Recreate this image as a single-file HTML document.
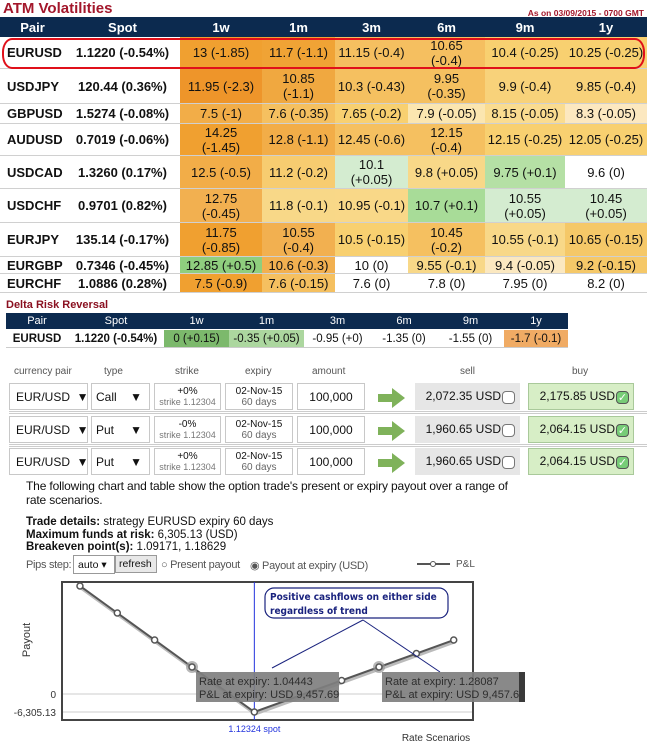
<!DOCTYPE html>
<html><head><meta charset="utf-8">
<style>
*{box-sizing:border-box;margin:0;padding:0}
body{width:647px;height:743px;background:#fff;position:relative;overflow:hidden;font-family:"Liberation Sans",sans-serif;color:#111}
.abs{position:absolute}
.cell{position:absolute;display:flex;align-items:center;justify-content:center;text-align:center;font-size:13px;line-height:15px;border-bottom:1px solid #d0d0d0}
.hdr{position:absolute;display:flex;align-items:center;justify-content:center;color:#fff;font-weight:bold;font-size:13px}
.dhdr{position:absolute;display:flex;align-items:center;justify-content:center;color:#fff;font-size:11px}
.dcell{position:absolute;display:flex;align-items:center;justify-content:center;font-size:11.5px;border-bottom:1px solid #ccc}
.box{position:absolute;border:1px solid #c8c8c8;background:#fff;font-size:12px;display:flex;align-items:center}
.lbl{position:absolute;font-size:10px;color:#555;top:366px}
</style></head><body>
<div class="abs" style="left:3px;top:0;font-size:15px;font-weight:bold;color:#a3172b">ATM Volatilities</div>
<div class="abs" style="right:3px;top:8px;font-size:8.5px;font-weight:bold;color:#a3172b">As on 03/09/2015 - 0700 GMT</div>
<div id="atm"></div>
<div class="abs" style="left:2px;top:38px;width:643px;height:31px;border:2px solid #e0101a;border-radius:10px/14px"></div>
<div class="abs" style="left:6px;top:299px;font-size:11px;font-weight:bold;color:#8a1020">Delta Risk Reversal</div>
<div id="delta"></div>
<div id="opts"></div>
<div class="abs" style="left:26px;top:479px;font-size:12px;line-height:14px;width:490px;letter-spacing:-0.15px">The following chart and table show the option trade's present or expiry payout over a range of rate scenarios.</div>
<div class="abs" style="left:26px;top:516px;font-size:11.5px;line-height:12.5px">
<div><b>Trade details:</b> strategy EURUSD expiry 60 days</div>
<div><b>Maximum funds at risk:</b> 6,305.13 (USD)</div>
<div><b>Breakeven point(s):</b> 1.09171, 1.18629</div></div>
<div class="abs" style="left:26px;top:559px;font-size:11px;color:#555;letter-spacing:-0.3px">Pips step:</div>
<div class="abs" style="left:73px;top:555px;width:42px;height:19px;border:1px solid #999;font-size:10.5px;padding:3px 0 0 4px;background:#fff">auto ▾</div>
<div class="abs" style="left:115px;top:555px;width:42px;height:18px;border:1px solid #999;font-size:10.5px;padding:2px 0 0 3px;background:#e8e8e8">refresh</div>
<div class="abs" style="left:161px;top:559px;font-size:11px;color:#555;letter-spacing:-0.3px">○ Present payout</div>
<div class="abs" style="left:250px;top:559px;font-size:11px;color:#555;letter-spacing:-0.3px">◉ Payout at expiry (USD)</div>
<svg class="abs" style="left:0;top:0" width="647" height="743" id="chart"></svg>
<script>
var pairs=["EURUSD","USDJPY","GBPUSD","AUDUSD","USDCAD","USDCHF","EURJPY","EURGBP","EURCHF"];
var spots=["1.1220 (-0.54%)","120.44 (0.36%)","1.5274 (-0.08%)","0.7019 (-0.06%)","1.3260 (0.17%)","0.9701 (0.82%)","135.14 (-0.17%)","0.7346 (-0.45%)","1.0886 (0.28%)"];
var tenors=["1w","1m","3m","6m","9m","1y"];
var vols=[
["13 (-1.85)","11.7 (-1.1)","11.15 (-0.4)","10.65<br>(-0.4)","10.4 (-0.25)","10.25 (-0.25)"],
["11.95 (-2.3)","10.85<br>(-1.1)","10.3 (-0.43)","9.95<br>(-0.35)","9.9 (-0.4)","9.85 (-0.4)"],
["7.5 (-1)","7.6 (-0.35)","7.65 (-0.2)","7.9 (-0.05)","8.15 (-0.05)","8.3 (-0.05)"],
["14.25<br>(-1.45)","12.8 (-1.1)","12.45 (-0.6)","12.15<br>(-0.4)","12.15 (-0.25)","12.05 (-0.25)"],
["12.5 (-0.5)","11.2 (-0.2)","10.1<br>(+0.05)","9.8 (+0.05)","9.75 (+0.1)","9.6 (0)"],
["12.75<br>(-0.45)","11.8 (-0.1)","10.95 (-0.1)","10.7 (+0.1)","10.55<br>(+0.05)","10.45<br>(+0.05)"],
["11.75<br>(-0.85)","10.55<br>(-0.4)","10.5 (-0.15)","10.45<br>(-0.2)","10.55 (-0.1)","10.65 (-0.15)"],
["12.85 (+0.5)","10.6 (-0.3)","10 (0)","9.55 (-0.1)","9.4 (-0.05)","9.2 (-0.15)"],
["7.5 (-0.9)","7.6 (-0.15)","7.6 (0)","7.8 (0)","7.95 (0)","8.2 (0)"]];
var cols=[
["#f0a030","#f0a335","#f5bf60","#f5bf60","#f8d070","#f8d070"],
["#ee952a","#f0a840","#f5c060","#f5c060","#f8d27a","#f8d27a"],
["#f2ad48","#f5c060","#f8d070","#fbe6b0","#fadc90","#fce8c0"],
["#f0a030","#f2ad48","#f5c060","#f5c060","#f8d070","#f8d070"],
["#f2ad48","#f7cc70","#d4ecd0","#f8d888","#b5e0a5","#fff"],
["#f2b050","#f8d888","#f9d888","#a8dc98","#d4ecd0","#d4ecd0"],
["#f0a030","#f2b050","#f8d070","#f5c060","#f8d888","#f5c868"],
["#8fce7e","#f2b050","#fff","#f8d888","#fbe8c0","#f5c868"],
["#f0a030","#f5c060","#fff","#fff","#fff","#fff"]];
var colX=[0,65,180,262,335,408,485,565,647];
var rowY=[37,69,104,124,156,189,223,257,274,293];
var atm=document.getElementById('atm');
var hb=document.createElement('div');hb.className='abs';hb.style.cssText='left:0;top:17px;width:647px;height:20px;background:#0c2a4f';


atm.appendChild(hb);
var heads=["Pair","Spot"].concat(tenors);
heads.forEach(function(h,i){var d=document.createElement('div');d.className='hdr';
d.style.cssText='left:'+colX[i]+'px;width:'+(colX[i+1]-colX[i])+'px;top:17px;height:20px';d.textContent=h;


atm.appendChild(d);});
pairs.forEach(function(p,r){
 var y=rowY[r],h=rowY[r+1]-y;
 var vals=[p,spots[r]].concat(vols[r]);
 vals.forEach(function(v,c){var d=document.createElement('div');d.className='cell';
  var bg=c<2?'#fff':cols[r][c-2];
  d.style.cssText='left:'+colX[c]+'px;width:'+(colX[c+1]-colX[c])+'px;top:'+y+'px;height:'+h+'px;background:'+bg+(c<2?';font-weight:bold':'')+(c==0?';justify-content:flex-start;padding-left:7px':'');
  d.innerHTML=v;
  
  
  atm.appendChild(d);});
});
var dX=[0,68,164,229,304,371,437,504,568];
var dVals=["EURUSD","1.1220 (-0.54%)","0 (+0.15)","-0.35 (+0.05)","-0.95 (+0)","-1.35 (0)","-1.55 (0)","-1.7 (-0.1)"];
var dCols=["#fff","#fff","#7cb96c","#acd79f","#fff","#fff","#fff","#f0ab64"];
var delta=document.getElementById('delta');
var db=document.createElement('div');db.className='abs';db.style.cssText='left:6px;top:313px;width:562px;height:16px;background:#0c2a4f';


delta.appendChild(db);
heads.forEach(function(h,i){var d=document.createElement('div');d.className='dhdr';
d.style.cssText='left:'+Math.max(dX[i],6)+'px;width:'+(dX[i+1]-Math.max(dX[i],6))+'px;top:313px;height:16px';d.textContent=h;


delta.appendChild(d);
var e=document.createElement('div');e.className='dcell';
e.style.cssText='left:'+Math.max(dX[i],6)+'px;width:'+(dX[i+1]-Math.max(dX[i],6))+'px;top:330px;height:18px;background:'+dCols[i]+(i<2?';font-weight:bold':'');
e.textContent=dVals[i];


delta.appendChild(e);});
var legTypes=["Call","Put","Put"],legStrike=["+0%","-0%","+0%"],legSell=["2,072.35 USD","1,960.65 USD","1,960.65 USD"],legBuy=["2,175.85 USD","2,064.15 USD","2,064.15 USD"];
var opts=document.getElementById('opts');
var labels=[["currency pair",14],["type",104],["strike",175],["expiry",245],["amount",312],["sell",460],["buy",572]];
labels.forEach(function(l){var d=document.createElement('div');d.className='lbl';d.style.left=l[1]+'px';d.textContent=l[0];


opts.appendChild(d);});
var legY=[383,416,448];
legY.forEach(function(y,i){
 var parts=[
  [9,79,'<span style="padding-left:6px">EUR/USD&nbsp;&nbsp;▼</span>','currency-select',''],
  [91,59,'<span style="padding-left:4px;width:50px;display:flex;justify-content:space-between">'+legTypes[i]+'<span>▼</span></span>','type-select',''],
  [154,67,'<div style="width:100%;text-align:center;line-height:10px"><div style="font-size:10px">'+legStrike[i]+'</div><div style="font-size:9px;color:#777">strike 1.12304</div></div>','strike-input',''],
  [225,68,'<div style="width:100%;text-align:center;line-height:11px;font-size:10px"><div>02-Nov-15</div><div style="color:#666">60 days</div></div>','expiry-input',''],
  [297,68,'<div style="width:100%;text-align:center">100,000</div>','amount-input',''],
  [415,105,'<div style="width:100%;text-align:right;padding-right:4px">'+legSell[i]+'<span style="display:inline-block;width:13px;height:13px;border:1px solid #777;border-radius:4px;background:#fff;vertical-align:middle;margin-left:1px"></span></div>','sell-button','background:#e6e6e6;border-color:#e6e6e6'],
  [528,106,'<div style="width:100%;text-align:right;padding-right:4px">'+legBuy[i]+'<span style="display:inline-block;width:13px;height:13px;border:1px solid #555;border-radius:4px;background:#7c7;color:#fff;font-size:11px;line-height:12px;text-align:center;vertical-align:middle;margin-left:1px">✓</span></div>','buy-button','background:#d7eec6;border-color:#a9c99a']];
 parts.forEach(function(p){var d=document.createElement('div');d.className='box';
  d.style.cssText='left:'+p[0]+'px;top:'+y+'px;width:'+p[1]+'px;height:27px;'+p[4];d.innerHTML=p[2];
  
  
  opts.appendChild(d);});
 var a=document.createElement('div');a.className='abs';
 a.style.cssText='left:378px;top:'+(y+5)+'px;width:0;height:0;';
 a.innerHTML='<svg width="28" height="20"><polygon points="0,6 14,6 14,0 27,10 14,20 14,14 0,14" fill="#7fb25a"/></svg>';
 
 
 opts.appendChild(a);
 if(i<2){var s=document.createElement('div');s.className='abs';s.style.cssText='left:9px;top:'+(y+28)+'px;width:638px;height:3px;border-top:1px solid #ccc;border-bottom:1px solid #ccc';
 
 
 opts.appendChild(s);}
});
</script>
<script>
var rates=[0.9028,0.9500,0.9972,1.04443,1.12324,1.2336,1.28087,1.3281,1.3753];
var pnl=[37830,28372,18915,9457.69,-6305.13,4731,9457.69,14180,18905];
var yTicks=[0,-6305.13];
var yTickLabels=["0","-6,305.13"];
var spotRate=1.12324;
var highlighted=[3,6];
var tipRates=["1.04443","1.28087"];
var tipPnl=["9,457.69","9,457.69"];
function xS(r){return 192+(r-1.04443)*791;}
function yS(v){return 694-v*0.002855;}
var NS='http://www.w3.org/2000/svg',svg=document.getElementById('chart');
function el(t,a,txt){var e=document.createElementNS(NS,t);for(var k in a)e.setAttribute(k,a[k]);if(txt!=null)e.textContent=txt;svg.appendChild(e);return e;}
var e;
e=el('rect',{x:62,y:582,width:411,height:138,fill:'#fff',stroke:'#444','stroke-width':2});


yTicks.forEach(function(t,i){
 e=el('line',{x1:63,x2:472,y1:yS(t),y2:yS(t),stroke:'#ccc','stroke-width':1});
 
 
 e=el('text',{x:56,y:yS(t)+4,'text-anchor':'end','font-size':10,fill:'#333','font-family':'Liberation Sans'},yTickLabels[i]);
 
 
});
e=el('text',{x:30,y:640,'font-size':11,fill:'#333',transform:'rotate(-90 30 640)','text-anchor':'middle','font-family':'Liberation Sans'},'Payout');


e=el('line',{x1:xS(spotRate),x2:xS(spotRate),y1:582,y2:720,stroke:'#2233dd','stroke-width':1});


e=el('text',{x:xS(spotRate),y:732,'text-anchor':'middle','font-size':9,fill:'#2233dd','font-family':'Liberation Sans'},spotRate+' spot');


e=el('text',{x:436,y:741,'text-anchor':'middle','font-size':10,fill:'#333','font-family':'Liberation Sans'},'Rate Scenarios');


var pts=rates.map(function(r,i){return xS(r)+','+yS(pnl[i]);}).join(' ');
e=el('polyline',{points:rates.map(function(r,i){return (xS(r)+1)+','+(yS(pnl[i])+2);}).join(' '),fill:'none',stroke:'#bbb','stroke-width':3});


e=el('polyline',{points:pts,fill:'none',stroke:'#555','stroke-width':2});


highlighted.forEach(function(i){
 e=el('circle',{cx:xS(rates[i]),cy:yS(pnl[i]),r:6,fill:'#999','fill-opacity':0.7});
 
 
});
rates.forEach(function(r,i){
 e=el('circle',{cx:xS(r),cy:yS(pnl[i]),r:3,fill:'#fff',stroke:'#555','stroke-width':1.5});
 
 
});
e=el('line',{x1:417,x2:450,y1:564,y2:564,stroke:'#555','stroke-width':2});


e=el('circle',{cx:433,cy:564,r:2.5,fill:'#fff',stroke:'#555'});


e=el('text',{x:456,y:567,'font-size':10,fill:'#555','font-family':'Liberation Sans'},'P&L');


e=el('line',{x1:363,y1:620,x2:272,y2:668,stroke:'#1a237e','stroke-width':1});


e=el('line',{x1:363,y1:620,x2:440,y2:672,stroke:'#1a237e','stroke-width':1});


e=el('rect',{x:265,y:588,width:183,height:30,rx:9,fill:'#fff',stroke:'#1a237e','stroke-width':1.2});


e=el('text',{x:270,y:600,'font-size':10,'font-weight':'bold',fill:'#1a237e','font-family':'DejaVu Sans Condensed, DejaVu Sans'},'Positive cashflows on either side');


e=el('text',{x:270,y:614,'font-size':10,'font-weight':'bold',fill:'#1a237e','font-family':'DejaVu Sans Condensed, DejaVu Sans'},'regardless of trend');


var tipX=[196,382];
highlighted.forEach(function(idx,i){
 e=el('rect',{x:tipX[i],y:672,width:143,height:30,fill:'#7f7f7f','fill-opacity':0.92});
 
 
 e=el('text',{x:tipX[i]+3,y:685,'font-size':11,fill:'#2e2e2e','font-family':'Liberation Sans'},'Rate at expiry: '+tipRates[i]);
 
 
 e=el('text',{x:tipX[i]+3,y:698,'font-size':11,fill:'#2e2e2e','font-family':'Liberation Sans'},'P&L at expiry: USD '+tipPnl[i]);
 
 
});
e=el('rect',{x:519,y:672,width:6,height:30,fill:'#3a3a3a'});


</script>
</body></html>
